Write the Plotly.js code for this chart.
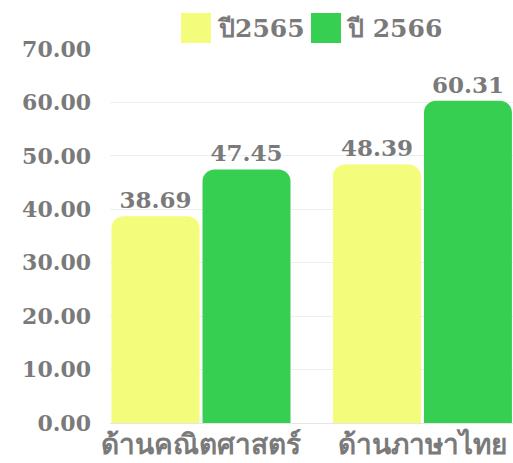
<!DOCTYPE html>
<html><head><meta charset="utf-8">
<script src="https://cdn.plot.ly/plotly-3.0.1.min.js"></script>
<style>html,body{margin:0;padding:0;background:#fff}#chart{width:513px;height:463px}</style>
</head><body><div id="chart"></div>
<script>
const categories = ["ด้านคณิตศาสตร์", "ด้านภาษาไทย"];
const seriesNames = ["ปี2565", "ปี 2566"];
const values2565 = [38.69, 48.39];
const values2566 = [47.45, 60.31];
const yTicks = [0, 10, 20, 30, 40, 50, 60, 70];

const colors = ["#f4fc7b", "#37cf51"];
const gray = "#7a7a7a";
const font = "DejaVu Serif, Liberation Serif, serif";

function bar(vals, i) {
  return {
    type: "bar", x: categories, y: vals, name: seriesNames[i],
    marker: {color: colors[i]},
    texttemplate: "%{y:.2f}", textposition: "outside",
    textfont: {family: font, size: 23, color: gray, weight: "bold"},
    cliponaxis: false, showlegend: false, hoverinfo: "none"
  };
}

const shapes = [], annotations = [];
const legendPos = [{sx: 181, tx: 215}, {sx: 311, tx: 344}];
seriesNames.forEach((n, i) => {
  const p = legendPos[i];
  shapes.push({type: "rect", xref: "paper", yref: "paper",
    x0: (p.sx - 110) / 403, x1: (p.sx + 30 - 110) / 403,
    y0: (423 - 43) / 374, y1: (423 - 13) / 374,
    fillcolor: colors[i], line: {width: 0}});
  annotations.push({xref: "paper", yref: "paper", x: (p.tx - 110) / 403,
    y: (423 - 28) / 374, xanchor: "left", yanchor: "middle", showarrow: false,
    text: n, font: {family: font, size: 25, color: gray, weight: "bold"}});
});

const layout = {
  width: 513, height: 463,
  margin: {l: 110, r: 0, t: 49, b: 40},
  paper_bgcolor: "#fff", plot_bgcolor: "#fff",
  barmode: "group", bargap: 0.178, bargroupgap: 0.033, barcornerradius: 12,
  showlegend: false,
  xaxis: {range: [-0.411, 1.409], tickvals: categories, showgrid: false, zeroline: false, showline: false,
    tickfont: {family: font, size: 28, color: gray, weight: "bold"}, ticks: "", ticklabelstandoff: 2},
  yaxis: {range: [0, 70], tickvals: yTicks, tickformat: ".2f", showgrid: true,
    gridcolor: "#eeeeee", gridwidth: 1, zeroline: true, zerolinecolor: "#e6e6e6",
    tickfont: {family: font, size: 22, color: gray, weight: "bold"}, ticklabelstandoff: 18, ticks: ""},
  shapes: shapes, annotations: annotations
};

Plotly.newPlot("chart", [bar(values2565, 0), bar(values2566, 1)], layout, {staticPlot: true, displayModeBar: false});
</script></body></html>
